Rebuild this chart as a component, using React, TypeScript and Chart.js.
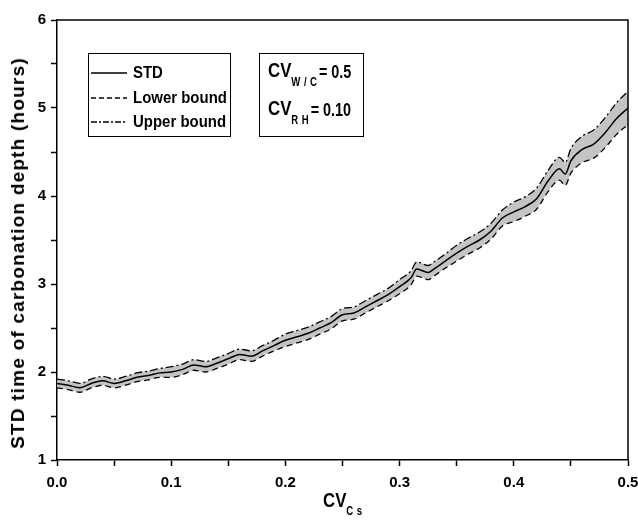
import React, { useEffect, useRef } from "react";
import { Chart, registerables } from "chart.js";

Chart.register(...registerables);

const cvCs = [0, 0.01, 0.02, 0.03, 0.04, 0.05, 0.06, 0.07, 0.08, 0.09, 0.1, 0.11, 0.12, 0.13, 0.14, 0.15, 0.16, 0.17, 0.18, 0.19, 0.2, 0.21, 0.22, 0.23, 0.24, 0.25, 0.26, 0.27, 0.28, 0.29, 0.3, 0.31, 0.315, 0.325, 0.33, 0.34, 0.35, 0.36, 0.37, 0.38, 0.39, 0.4, 0.41, 0.42, 0.43, 0.44, 0.445, 0.45, 0.46, 0.47, 0.48, 0.49, 0.5];
const stdValues = [1.87, 1.85, 1.82, 1.87, 1.9, 1.87, 1.9, 1.94, 1.96, 1.99, 2.0, 2.03, 2.08, 2.06, 2.1, 2.15, 2.2, 2.18, 2.24, 2.3, 2.36, 2.4, 2.44, 2.5, 2.56, 2.65, 2.67, 2.74, 2.81, 2.88, 2.97, 3.07, 3.17, 3.13, 3.17, 3.26, 3.35, 3.43, 3.5, 3.6, 3.75, 3.82, 3.88, 3.97, 4.17, 4.31, 4.25, 4.4, 4.53, 4.59, 4.72, 4.88, 5.0];
const upperBound = [1.92, 1.9, 1.87, 1.92, 1.95, 1.92, 1.95, 1.99, 2.01, 2.04, 2.06, 2.09, 2.14, 2.12, 2.16, 2.21, 2.26, 2.24, 2.3, 2.36, 2.43, 2.47, 2.51, 2.57, 2.63, 2.72, 2.74, 2.81, 2.88, 2.95, 3.05, 3.15, 3.25, 3.21, 3.25, 3.34, 3.44, 3.52, 3.59, 3.69, 3.84, 3.93, 3.99, 4.09, 4.29, 4.44, 4.38, 4.54, 4.68, 4.75, 4.89, 5.06, 5.19];
const lowerBound = [1.82, 1.8, 1.77, 1.82, 1.85, 1.82, 1.85, 1.89, 1.91, 1.94, 1.94, 1.97, 2.02, 2.0, 2.04, 2.09, 2.14, 2.12, 2.18, 2.24, 2.29, 2.33, 2.37, 2.43, 2.49, 2.58, 2.6, 2.67, 2.74, 2.81, 2.89, 2.99, 3.09, 3.05, 3.09, 3.18, 3.26, 3.34, 3.41, 3.51, 3.66, 3.71, 3.77, 3.85, 4.05, 4.18, 4.12, 4.26, 4.38, 4.43, 4.55, 4.7, 4.81];
const xTickLabels = ["0.0", "0.1", "0.2", "0.3", "0.4", "0.5"];
const yTickLabels = ["1", "2", "3", "4", "5", "6"];

const FONT = "'Liberation Sans', Arial, sans-serif";

const borderPlugin = {
  id: "frame",
  afterDraw(chart: any) {
    const { ctx, chartArea } = chart;
    ctx.save();
    ctx.strokeStyle = "#000";
    ctx.lineWidth = 1.5;
    ctx.beginPath();
    ctx.moveTo(chartArea.left, chartArea.top);
    ctx.lineTo(chartArea.right, chartArea.top);
    ctx.lineTo(chartArea.right, chartArea.bottom);
    ctx.stroke();
    ctx.restore();
  },
};

function LineSample({ dash }: { dash?: string }) {
  return (
    <svg width="36" height="6" style={{ display: "block", flexShrink: 0 }}>
      <line x1="0" y1="3" x2="36" y2="3" stroke="#000" strokeWidth="1.3" strokeDasharray={dash} />
    </svg>
  );
}

export default function App() {
  const ref = useRef<HTMLCanvasElement>(null);
  useEffect(() => {
    if (!ref.current) return;
    const pts = (arr: number[]) => cvCs.map((x, i) => ({ x, y: arr[i] }));
    const common = { pointRadius: 0, cubicInterpolationMode: "monotone", borderColor: "#000" };
    const chart = new Chart(ref.current, {
      type: "line",
      data: {
        datasets: [
          { ...common, label: "STD", data: pts(stdValues), borderWidth: 1.5, fill: false },
          { ...common, label: "Lower bound", data: pts(lowerBound), borderWidth: 1.3, borderDash: [6, 4], fill: false },
          { ...common, label: "Upper bound", data: pts(upperBound), borderWidth: 1.3, borderDash: [8, 3, 2, 3], fill: "-1", backgroundColor: "#c4c4c4" },
        ],
      },
      options: {
        animation: false,
        responsive: false,
        maintainAspectRatio: false,
        layout: { padding: { left: 0, top: 20, right: 0, bottom: 0 } },
        plugins: { legend: { display: false }, tooltip: { enabled: false } },
        scales: {
          x: {
            type: "linear",
            min: 0,
            max: 0.5,
            ticks: {
              stepSize: 0.05,
              autoSkip: false,
              maxRotation: 0,
              padding: 8,
              color: "#000",
              font: { family: FONT, size: 15, weight: "bold" },
              callback: (_v: any, i: number) => (i % 2 === 0 ? xTickLabels[i / 2] : ""),
            },
            grid: { drawOnChartArea: false, drawTicks: true, tickLength: 6, tickColor: "#000", tickWidth: 1.5 },
            border: { color: "#000", width: 1.5 },
            afterFit: (s: any) => { s.height = 62; s.paddingRight = 10; s.paddingLeft = 0; },
          },
          y: {
            type: "linear",
            min: 1,
            max: 6,
            ticks: {
              stepSize: 0.5,
              autoSkip: false,
              padding: 5,
              color: "#000",
              font: { family: FONT, size: 15, weight: "bold" },
              callback: (_v: any, i: number) => (i % 2 === 0 ? yTickLabels[i / 2] : ""),
            },
            grid: { drawOnChartArea: false, drawTicks: true, tickLength: 6, tickColor: "#000", tickWidth: 1.5 },
            border: { color: "#000", width: 1.5 },
            afterFit: (s: any) => { s.width = 57; s.paddingTop = 0; s.paddingBottom = 0; },
          },
        },
      },
      plugins: [borderPlugin],
    } as any);
    return () => chart.destroy();
  }, []);

  const legendRow = { display: "flex", alignItems: "center", height: 24.5 } as React.CSSProperties;
  const legendText = { marginLeft: 6, fontFamily: FONT, fontWeight: "bold", fontSize: 17, lineHeight: "20px", whiteSpace: "nowrap", display: "inline-block", transform: "scaleX(0.88)", transformOrigin: "left center" } as React.CSSProperties;
  const cvBig = { fontFamily: FONT, fontWeight: "bold", fontSize: 21 } as React.CSSProperties;
  const cvSub = { fontFamily: FONT, fontWeight: "bold", fontSize: 12, position: "relative", top: 9, letterSpacing: 0.5 } as React.CSSProperties;
  const cvEq = { fontFamily: FONT, fontWeight: "bold", fontSize: 18, marginLeft: 2, position: "relative", top: 1 } as React.CSSProperties;
  const squeeze = { display: "inline-block", transform: "scaleX(0.8)", transformOrigin: "left top", whiteSpace: "nowrap" } as React.CSSProperties;

  return (
    <div style={{ position: "absolute", left: 0, top: 0, width: 638, height: 522, background: "#fff" }}>
      <canvas ref={ref} width={638} height={522} style={{ position: "absolute", left: 0, top: 0 }} />
      <div style={{ position: "absolute", left: 88, top: 53, width: 143, height: 84, border: "1.3px solid #000", boxSizing: "border-box", padding: "7px 0 0 2px" }}>
        <div style={legendRow}><LineSample /><span style={legendText}>STD</span></div>
        <div style={legendRow}><LineSample dash="5 3" /><span style={legendText}>Lower bound</span></div>
        <div style={legendRow}><LineSample dash="6 2 2 2" /><span style={legendText}>Upper bound</span></div>
      </div>
      <div style={{ position: "absolute", left: 259, top: 53, width: 105, height: 84, border: "1.3px solid #000", boxSizing: "border-box", padding: "4px 0 0 8px" }}>
        <div style={{ height: 38 }}>
          <div style={squeeze}><span style={cvBig}>CV</span><span style={cvSub}>W / C</span><span style={cvEq}>= 0.5</span></div>
        </div>
        <div>
          <div style={squeeze}><span style={cvBig}>CV</span><span style={cvSub}>R H</span><span style={cvEq}>= 0.10</span></div>
        </div>
      </div>
      <div style={{ position: "absolute", left: 18, top: 253, width: 0, height: 0 }}>
        <div style={{ position: "absolute", left: 0, top: 0, transform: "translate(-50%, -50%) rotate(-90deg)", fontFamily: FONT, fontWeight: "bold", fontSize: 19, letterSpacing: 1.2, whiteSpace: "nowrap" }}>
          STD time of carbonation depth (hours)
        </div>
      </div>
      <div style={{ position: "absolute", left: 323, top: 488 }}>
        <div style={squeeze}><span style={cvBig}>CV</span><span style={{ ...cvSub, top: 8 }}>C s</span></div>
      </div>
    </div>
  );
}
